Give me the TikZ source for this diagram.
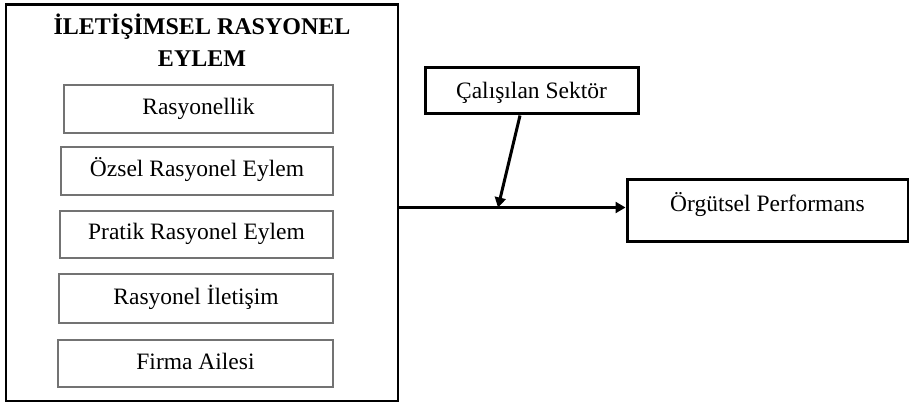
\documentclass[tikz,border=0pt]{standalone}
\usepackage{fontspec}
\setmainfont{Liberation Serif}
\usetikzlibrary{arrows.meta,calc}
\begin{document}
\begin{tikzpicture}[x=1pt,y=-1pt,
  txt/.style={font=\fontsize{23.5}{28}\selectfont, text height=16pt, text depth=5pt, inner sep=0pt},
  itembox/.style={txt, draw=black!55, line width=1.2pt, rectangle},
  thickbox/.style={draw=black, line width=3pt, rectangle, inner sep=0pt},
  arrowline/.style={draw=black, line width=3pt, -{Triangle[length=10pt,width=11pt]}}
]
\useasboundingbox (0,0) rectangle (909,403);
% outer container
\node[draw=black, line width=2.5pt, minimum width=392pt, minimum height=396pt, inner sep=0pt] (outer) at (202,202.75) {};
\node[font=\fontsize{24}{32}\selectfont\bfseries, inner sep=0pt, anchor=base] (title) at (202,35)
  {\begin{tabular}[t]{@{}c@{}}İLETİŞİMSEL RASYONEL\\EYLEM\end{tabular}};
% items
\node[itembox, minimum width=269pt, minimum height=48pt] (r1) at (198.5,109) {Rasyonellik};
\node[itembox, minimum width=272pt, minimum height=48pt] (r2) at (197,171) {Özsel Rasyonel Eylem};
\node[itembox, minimum width=273pt, minimum height=47pt] (r3) at (196.5,234.5) {Pratik Rasyonel Eylem};
\node[itembox, minimum width=274pt, minimum height=49pt] (r4) at (196,298.5) {Rasyonel İletişim};
\node[itembox, minimum width=275pt, minimum height=47pt] (r5) at (195.5,363.5) {Firma Ailesi};
% moderator
\node[thickbox, txt, text height=16pt, text depth=0pt, minimum width=213pt, minimum height=46pt] (mod) at (531.5,91) {Çalışılan Sektör};
% outcome
\node[thickbox, txt, text height=16pt, text depth=13pt, minimum width=281pt, minimum height=61pt] (perf) at (767.5,210.5) {Örgütsel Performans};
% connectors
\coordinate (j) at (498,207.5);
\draw[arrowline] (outer.east |- j) -- (perf.west |- j);
\draw[arrowline] ($(mod.south)+(-11.5,0)$) -- (j);
\end{tikzpicture}
\end{document}
